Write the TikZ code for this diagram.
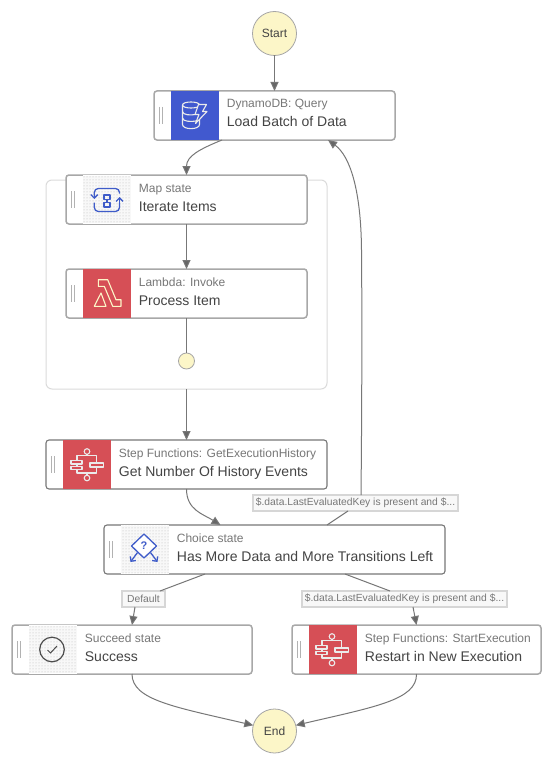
\documentclass[tikz,border=0pt]{standalone}
\usepackage{fontspec}
\setmainfont{Liberation Sans}
\usetikzlibrary{arrows.meta,patterns}
\definecolor{edgegray}{HTML}{777777}
\definecolor{tipgray}{HTML}{666666}
\definecolor{framegray}{HTML}{A8A8A8}
\definecolor{darkframe}{HTML}{777777}
\definecolor{cream}{HTML}{FCF6C8}
\definecolor{awsblue}{HTML}{4159CF}
\definecolor{awsred}{HTML}{D64F56}
\definecolor{iconblue}{HTML}{3F5CC9}
\definecolor{smalltxt}{HTML}{777777}
\definecolor{bigtxt}{HTML}{444444}
\definecolor{lightpane}{HTML}{F8F8F8}
\tikzset{
  x=1pt,y=-1pt,
  statebox/.style={draw=framegray,line width=1.5pt,rounded corners=3pt,fill=white,minimum height=49pt,inner sep=0pt,outer sep=0pt},
  darkbox/.style={statebox,draw=darkframe,line width=1.1pt},
  smalltext/.style={anchor=base west,inner sep=0pt,text=smalltxt,font=\fontsize{12}{14}\selectfont},
  bigtext/.style={anchor=base west,inner sep=0pt,text=bigtxt,font=\fontsize{14}{16}\selectfont},
  terminal/.style={circle,draw=gray!70,line width=.8pt,fill=cream,minimum size=44pt,inner sep=0pt,outer sep=0pt,text=bigtxt,font=\fontsize{12}{14}\selectfont},
  dotnode/.style={circle,draw=gray!70,line width=.8pt,fill=cream,minimum size=16pt,inner sep=0pt,outer sep=0pt},
  conn/.style={draw=edgegray,line width=1pt,-{Triangle[length=9pt,width=8pt,fill=tipgray]}},
  plainconn/.style={draw=edgegray,line width=1pt},
  edgelabel/.style={draw=black!16,line width=1.2pt,fill=lightpane,minimum height=16pt,inner sep=0pt,outer sep=0pt,text=smalltxt,font=\fontsize{10.3}{12}\selectfont},
  group/.style={draw=black!14,line width=1pt,rounded corners=6pt},
  handleline/.style={draw=black!30,line width=1pt},
  whitestroke/.style={draw=white!92!black,line width=1.1pt,line join=round},
  bluestroke/.style={draw=iconblue,line width=1.3pt,line join=round},
  arrowhead/.style={-{Straight Barb[length=3.5pt,width=7pt]}}
}
% name, left x, top y, width, style, icon fill, small text
\newcommand{\stateitem}[7]{%
  \node[#5,minimum width=#4pt,anchor=north west] (#1) at (#2,#3) {};
  \fill[#6] (#2+16.5,#3) rectangle (#2+64.5,#3+49);
  \draw[handleline] (#2+5,#3+16) -- (#2+5,#3+33) (#2+8,#3+16) -- (#2+8,#3+33);
  \node[smalltext] (#1small) at (#2+72.7,#3+17) {#7};
}
\newcommand{\panefill}[2]{%
  \fill[lightpane] (#1+16.5,#2+.8) rectangle (#1+64.5,#2+48.2);
  \fill[pattern=dots,pattern color=black!28] (#1+16.5,#2+.8) rectangle (#1+64.5,#2+48.2);
}
\begin{document}
\begin{tikzpicture}
\useasboundingbox (0,0) rectangle (553,765);
\fill[white] (0,0) rectangle (553,765);

\node[terminal] (start) at (274.5,33.5) {Start};
\node[terminal] (finish) at (274.5,731) {End};

\draw[group] (46,180) rectangle (327,389);
\coordinate (grouptop) at (186.5,389);

\stateitem{dyn}{154}{91}{241}{statebox}{awsblue}{DynamoDB: Query}
\node[bigtext] (dynbig) at (226.7,127) {Load Batch of Data};

\stateitem{mapst}{66}{175}{241}{statebox}{white}{Map state}
\panefill{66}{175}
\node[bigtext] (mapbig) at (138.7,211) {Iterate Items};

\stateitem{lam}{66}{269}{241}{statebox}{awsred}{Lambda: Invoke}
\node[bigtext] (lambig) at (138.7,305) {Process Item};

\node[dotnode] (dot) at (186.5,361) {};

\stateitem{hist}{46}{440}{281}{darkbox}{awsred}{Step Functions: GetExecutionHistory}
\node[bigtext] (histbig) at (118.7,476) {Get Number Of History Events};

\stateitem{choice}{104}{525}{341}{darkbox}{white}{Choice state}
\panefill{104}{525}
\node[bigtext] (choicebig) at (176.7,561) {Has More Data and More Transitions Left};

\stateitem{succ}{12}{625}{240}{statebox}{white}{Succeed state}
\panefill{12}{625}
\node[bigtext] (succbig) at (84.7,661) {Success};

\stateitem{restart}{292}{625}{249}{statebox}{awsred}{Step Functions: StartExecution}
\node[bigtext] (restartbig) at (364.7,661) {Restart in New Execution};

\node[edgelabel,minimum width=205pt] (lab1) at (355.5,503) {\$.data.LastEvaluatedKey is present and \$...};
\node[edgelabel,minimum width=205pt] (lab2) at (404.5,599) {\$.data.LastEvaluatedKey is present and \$...};
\node[edgelabel,minimum width=43pt] (labd) at (143.5,599) {Default};

% DynamoDB icon
\begin{scope}[shift={(194,115.5)}]
  \draw[whitestroke] (-11.5,-10.5) .. controls (-11.5,-14.5) and (5.5,-14.5) .. (5.5,-10.5) .. controls (5.5,-6.5) and (-11.5,-6.5) .. (-11.5,-10.5);
  \draw[whitestroke] (-11.5,-10.5) -- (-11.5,9) .. controls (-11.5,14.5) and (5.5,14.5) .. (5.5,9) -- (5.5,3);
  \draw[whitestroke] (-11.5,-4) .. controls (-11.5,-.5) and (-3,0) .. (1,-1);
  \draw[whitestroke] (-11.5,2.5) .. controls (-11.5,6) and (-3,6.5) .. (2,5.5);
  \draw[whitestroke,fill=awsblue] (4.5,-11) -- (12.5,-11) -- (8.5,-4) -- (13,-4) -- (1.5,8) -- (5,-1) -- (1,-1) -- cycle;
\end{scope}

% Map icon
\begin{scope}[shift={(107,199.5)}]
  \draw[bluestroke,rounded corners=4pt] (-12.7,-4) -- (-12.7,-11) -- (12.5,-11) -- (12.5,-6);
  \draw[bluestroke,rounded corners=4pt] (-12.7,3) -- (-12.7,12) -- (12.5,12) -- (12.5,3);
  \draw[bluestroke,arrowhead] (-12.7,-7) -- (-12.7,-.5);
  \draw[bluestroke,arrowhead] (12.5,5) -- (12.5,-2.5);
  \draw[bluestroke] (-3,-4.5) rectangle (3,0) (-3,3) rectangle (3,7.5) (0,0) -- (0,3);
\end{scope}

% Lambda icon
\begin{scope}[shift={(107,293.5)}]
  \draw[draw=cream,line width=1.1pt,line join=round] (-8.7,-13.8) -- (.7,-13.8) -- (9,6.2) -- (14,6.2) -- (14,12.8) -- (5.7,12.8) -- (-2.7,-7.2) -- (-8.7,-7.2) -- cycle;
  \draw[draw=cream,line width=1.1pt,line join=round] (-12.7,12.8) -- (-6,-.5) -- (-1,12.8) -- cycle;
\end{scope}

% Step Functions icons
\foreach \cx/\cy in {87/464.5,332/649.5}{
  \begin{scope}[shift={(\cx,\cy)}]
    \draw[whitestroke] (0,-13) circle (2.8) (0,13.5) circle (2.8);
    \draw[whitestroke] (0,-10.2) -- (0,-8.8) (-10,-3.8) -- (-10,-8.8) -- (9.5,-8.8) -- (9.5,-1.5);
    \draw[whitestroke] (0,10.7) -- (0,8.5) (-10,5.2) -- (-10,8.5) -- (9.5,8.5) -- (9.5,2.5);
    \draw[whitestroke] (-16,-3.8) rectangle (-5,-.5) (-16,1.8) rectangle (-5,5.2) (3,-1.5) rectangle (16.3,2.5);
    \draw[whitestroke] (-10,-.5) -- (-10,1.8);
  \end{scope}
}

% Choice icon
\begin{scope}[shift={(144,549.5)}]
  \draw[bluestroke,fill=white] (-12.5,-3.5) -- (0,-15.5) -- (12.5,-3.5) -- (0,8.5) -- cycle;
  \node[inner sep=0pt,text=iconblue,font=\bfseries\fontsize{11}{12}\selectfont] (qmark) at (0,-3.5) {?};
  \draw[bluestroke,arrowhead] (-6.5,3) -- (-13.5,12.5);
  \draw[bluestroke,arrowhead] (6.5,3) -- (13.5,12.5);
\end{scope}

% Succeed icon
\begin{scope}[shift={(52,649.5)}]
  \draw[draw=black!70,line width=1.2pt] (0,0) circle (12.3);
  \draw[draw=black!70,line width=1pt] (-4.5,.5) -- (-1.5,3.5) -- (5,-3.5);
\end{scope}

% connectors
\draw[conn] (start) -- (dyn);
\draw[conn] ([xshift=-52.5pt]dyn.south) .. controls (200,149) and (186.5,156) .. (mapst.north);
\draw[conn] (mapst) -- (lam);
\draw[plainconn] (lam) -- (dot);
\draw[conn] (grouptop) -- (hist);
\draw[conn] (hist.south) .. controls (186.5,510) and (203,514) .. ([xshift=-54pt]choice.north);
\draw[plainconn] ([xshift=52.5pt]choice.north) -- ([xshift=-7.5pt]lab1.south);
\draw[conn] ([xshift=5.5pt]lab1.north) .. controls (362,400) and (362,300) .. (361.5,250) .. controls (361,190) and (350,156) .. ([xshift=53.5pt]dyn.south);
\draw[plainconn] ([xshift=-69.5pt]choice.south) -- ([xshift=16.5pt]labd.north);
\draw[conn] ([xshift=-8.5pt]labd.south) -- (succ.north);
\draw[plainconn] ([xshift=70.5pt]choice.south) -- ([xshift=-14.5pt]lab2.north);
\draw[conn] ([xshift=8.5pt]lab2.south) -- (restart.north);
\draw[conn] (succ.south) .. controls (132,700) and (175,707) .. (finish.165);
\draw[conn] (restart.south) .. controls (417,700) and (374,707) .. (finish.15);
\end{tikzpicture}
\end{document}
